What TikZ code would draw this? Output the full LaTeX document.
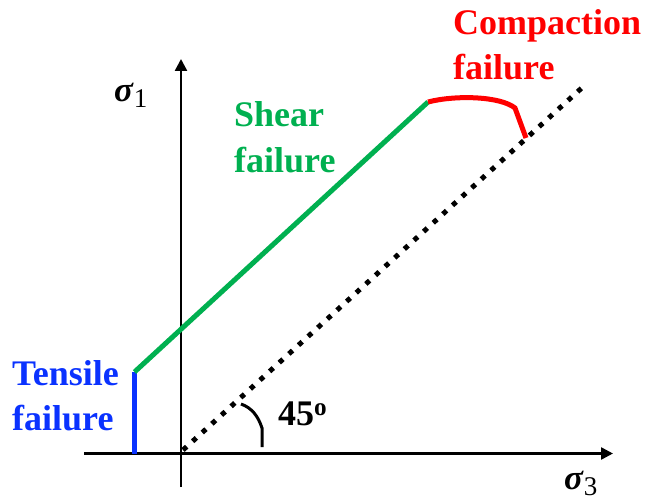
\documentclass[tikz,border=0pt]{standalone}
\usepackage{amsmath}
\usepackage{amssymb}
\usepackage{fontspec}
\setmainfont{Liberation Serif}
\usetikzlibrary{
    arrows.meta,
    positioning
}
\definecolor{sheargreen}{RGB}{0,176,80}
\definecolor{tensileblue}{RGB}{10,50,255}
\definecolor{compred}{RGB}{255,0,0}
\newcommand{\stresssub}[1]{\raisebox{-6pt}{\fontsize{27}{27}\selectfont #1}}
\tikzstyle{stressaxis} = [
    line width=2.5pt,
    -{Triangle[length=12pt,width=12pt]}
]
\tikzstyle{envelope} = [
    line width=5pt
]
\tikzstyle{failtext} = [
    inner sep=0pt,
    anchor=base west,
    font=\fontsize{36}{45}\selectfont\bfseries
]
\tikzstyle{stresstext} = [
    inner sep=0pt,
    anchor=base west,
    font=\fontsize{35}{40}\selectfont
]

\begin{document}
\begin{tikzpicture}[x=1pt, y=-1pt]
    \useasboundingbox (0,0) rectangle (646,503);

    % Axes
    \coordinate (s1bot) at (181,487);
    \coordinate (s1top) at (181,59);
    \coordinate (s3left) at (84,453.5);
    \coordinate (s3right) at (613,453.5);
    \draw[stressaxis] (s3left) -- (s3right);
    \draw[stressaxis] (s1bot) -- (s1top);

    % Failure envelope
    \coordinate (tensilebot) at (134.5,454);
    \coordinate (tensiletop) at (134.5,372);
    \coordinate (shearend) at (428,102);
    \coordinate (compend) at (526,138);
    \draw[envelope, tensileblue] (tensilebot) -- (tensiletop);
    \draw[envelope, sheargreen] (tensiletop) -- (shearend);
    \draw[envelope, compred] (shearend) .. controls (455,95) and (500,96) .. (515,108) -- (compend);

    % 45 degree line and angle mark
    \coordinate (diagstart) at (183,450);
    \coordinate (diagend) at (585,85);
    \draw[line width=5pt, dash pattern=on 5pt off 8pt] (diagstart) -- (diagend);
    \coordinate (anglestart) at (241,404);
    \coordinate (anglebend) at (262,428);
    \coordinate (angleend) at (262,447);
    \draw[line width=3pt] (anglestart) .. controls (252,408) and (258,416) .. (anglebend) -- (angleend);

    % Labels
    \node[stresstext] (sigma1) at (114,102) {\textbf{\textit{σ}}\stresssub{1}};
    \node[stresstext] (sigma3) at (564,489) {\textbf{\textit{σ}}\stresssub{3}};
    \node[failtext] (angle) at (278,425) {45\textsuperscript{o}};

    \node[failtext, sheargreen] (shear) at (234,127) {Shear};
    \node[failtext, sheargreen, below=45pt of shear.base west, anchor=base west] (shearb) {failure};

    \node[failtext, tensileblue] (tensile) at (12,385) {Tensile};
    \node[failtext, tensileblue, below=45pt of tensile.base west, anchor=base west] (tensileb) {failure};

    \node[failtext, compred] (compaction) at (453,35) {Compaction};
    \node[failtext, compred, below=45pt of compaction.base west, anchor=base west] (compactionb) {failure};
\end{tikzpicture}
\end{document}
